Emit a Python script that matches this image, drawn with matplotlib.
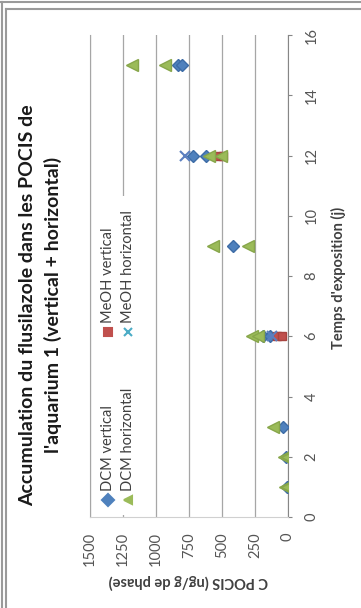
import matplotlib
matplotlib.use("Agg")
from matplotlib import pyplot as plt
from matplotlib.lines import Line2D

plt.rcParams['font.family'] = ['Lato', 'DejaVu Sans']

# data (days of exposure, C POCIS in ng/g de phase)
days_dcm_v = [1, 2, 3, 6, 6, 9, 12, 12, 15, 15]
dcm_v = [10, 15, 38, 190, 140, 420, 720, 620, 830, 800]
days_dcm_h = [1, 1, 2, 2, 3, 6, 6, 9, 9, 12, 12, 15, 15]
dcm_h = [25, 5, 30, 10, 115, 275, 230, 570, 300, 600, 505, 1180, 930]
days_meoh_v = [6, 6, 12, 12]
meoh_v = [80, 45, 530, 490]
days_meoh_h = [6, 12]
meoh_h = [120, 780]

labels = ["DCM vertical", "MeOH vertical", "DCM horizontal", "MeOH horizontal"]
conc_ticks = [0, 250, 500, 750, 1000, 1250, 1500]
day_ticks = [0, 2, 4, 6, 8, 10, 12, 14, 16]

W, H = 361, 608
def px(x, y):
    return x / W, 1 - y / H

fig = plt.figure(figsize=(W / 100, H / 100), dpi=100)

# screenshot frame lines
fig.add_artist(Line2D([0, 1], [1 - 2 / H, 1 - 2 / H], color='#9a9a9a', lw=1.5))
fig.add_artist(Line2D([6 / W, 1], [1 - 9 / H, 1 - 9 / H], color='#9a9a9a', lw=1.5))
fig.add_artist(Line2D([2 / W, 2 / W], [0, 1 - 2 / H], color='#9a9a9a', lw=1.5))
fig.add_artist(Line2D([6 / W, 6 / W], [0, 1 - 9 / H], color='#9a9a9a', lw=1.5))

# rotated chart: concentration runs right->left, days bottom->top
ax = fig.add_axes([90 / W, (H - 517) / H, 198 / W, 482 / H])
ax.set_xlim(1500, 0)
ax.set_ylim(0, 16)
ax.set_xticks(conc_ticks)
ax.set_yticks(day_ticks)
ax.grid(axis='x', color='#a6a6a6', lw=0.9)
ax.set_axisbelow(True)
ax.spines['top'].set_visible(False)
ax.spines['left'].set_color('#a6a6a6')
ax.spines['bottom'].set_color('#d0d0d0')
ax.spines['right'].set_color('#868686')
ax.yaxis.tick_right()
ax.tick_params(axis='x', length=0, pad=11, labelsize=10.5, labelcolor='#555555', labelrotation=90)
ax.tick_params(axis='y', length=3, color='#868686', pad=9, labelsize=10.5, labelcolor='#555555', labelrotation=90)
for t in ax.get_yticklabels():
    t.set_va('center')

ms = 7
ax.plot(dcm_v, days_dcm_v, 'D', color='#4F81BD', mec='#3d6ca6', ms=ms * 0.9, ls='none', zorder=3)
ax.plot(meoh_v, days_meoh_v, 's', color='#C0504D', mec='#a84440', ms=ms * 0.9, ls='none', zorder=3)
ax.plot(dcm_h, days_dcm_h, '<', color='#9BBB59', mec='#87a64a', ms=ms * 1.2, ls='none', zorder=4)
ax.plot(meoh_h, days_meoh_h, 'x', color='#5b7fc0', mew=1.5, ms=ms, ls='none', zorder=4)

# legend (rotated, drawn by hand)
ax.add_patch(plt.Rectangle((0.02, 0.005), 0.24, 0.66, transform=ax.transAxes,
                           facecolor='white', edgecolor='none', zorder=2))
leg = [('D', '#4F81BD', 108, 500, labels[0]),
       ('s', '#C0504D', 108, 332, labels[1]),
       ('<', '#9BBB59', 128, 500, labels[2]),
       ('x', '#4BACC6', 128, 332, labels[3])]
for m, c, x, y, lab in leg:
    fx, fy = px(x, y)
    fig.add_artist(Line2D([fx], [fy], marker=m, color=c, ms=6, mew=1.5, ls='none'))
    fx, fy = px(x, y - 9)
    fig.text(fx, fy, lab, rotation=90, rotation_mode='anchor', ha='left', va='center',
             fontsize=10.5, color='#404040')

# axis titles
fx, fy = px(188, 582)
fig.text(fx, fy, "C POCIS (ng/g de phase)", rotation=180, ha='center', va='center',
         fontsize=10.5, fontweight='bold', color='#404040')
fx, fy = px(338, 278)
fig.text(fx, fy, "Temps d'exposition (j)", rotation=90, ha='center', va='center',
         fontsize=10.5, fontweight='bold', color='#404040')

# chart title
fx, fy = px(28, 305)
fig.text(fx, fy, "Accumulation du flusilazole dans les POCIS de", rotation=90,
         ha='center', va='center', fontsize=14, fontweight='bold', color='#1a1a1a')
fx, fy = px(53, 305)
fig.text(fx, fy, "l'aquarium 1 (vertical + horizontal)", rotation=90,
         ha='center', va='center', fontsize=14, fontweight='bold', color='#1a1a1a')

fig.savefig("out.png", dpi=100)
